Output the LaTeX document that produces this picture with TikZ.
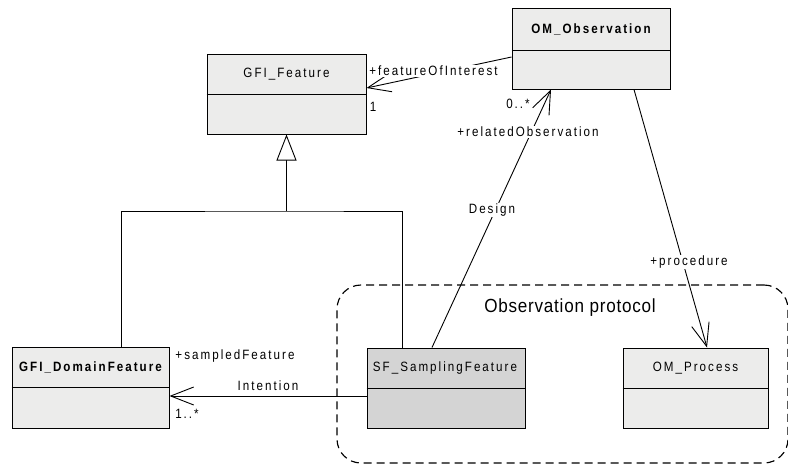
\documentclass[tikz,border=0pt]{standalone}
\usepackage{fontspec}
\setmainfont{Liberation Sans}[LetterSpace=15,FakeStretch=0.86]
\newfontfamily\protofont{Liberation Sans}[LetterSpace=4,FakeStretch=0.9]
\usetikzlibrary{arrows.meta,calc}
\definecolor{boxlight}{HTML}{ECECEB}
\definecolor{boxdark}{HTML}{D4D4D4}
\begin{document}
\begin{tikzpicture}[x=1pt,y=-1pt,
  cls/.style={draw, line width=1pt, fill=boxlight, inner sep=0pt},
  ttl/.style={font=\fontsize{13.5}{15}\selectfont, inner sep=0pt},
  lbl/.style={font=\fontsize{13.5}{15}\selectfont, inner sep=1pt},
  wlbl/.style={lbl, fill=white},
  conn/.style={line width=0.9pt},
  assoc/.style={conn, -{Straight Barb[length=23pt,width=18pt]}},
  gen/.style={conn, -{Triangle[open,length=26pt,width=20pt,fill=white]}},
  frame/.style={draw, line width=1.15pt, dash pattern=on 8pt off 5pt, rounded corners=24pt, inner sep=0pt}
]
\useasboundingbox (0,0) rectangle (788,466);

% package frame
\node[frame, minimum width=451, minimum height=178] (proto) at (562.5,374) {};
\node[font=\protofont\fontsize{19}{21}\selectfont, inner sep=0pt] (protot) at (570,308) {Observation protocol};

% classes
\node[cls, minimum width=159, minimum height=80] (gf) at (286.5,94) {};
\draw[line width=1pt] ($(gf.north west)+(0,41)$) -- ($(gf.north east)+(0,41)$);
\node[ttl] (gft) at (286.5,74.5) {GFI\_Feature};

\node[cls, minimum width=158, minimum height=81] (om) at (591,48.5) {};
\draw[line width=1pt] ($(om.north west)+(0,43)$) -- ($(om.north east)+(0,43)$);
\node[ttl, font=\bfseries\fontsize{13.5}{15}\selectfont] (omt) at (591,29.5) {OM\_Observation};

\node[cls, minimum width=157, minimum height=81] (dom) at (90.5,387.5) {};
\draw[line width=1pt] ($(dom.north west)+(0,41)$) -- ($(dom.north east)+(0,41)$);
\node[ttl, font=\bfseries\fontsize{13.5}{15}\selectfont] (domt) at (90.5,367.5) {GFI\_DomainFeature};

\node[cls, fill=boxdark, minimum width=158, minimum height=80] (sf) at (446,388) {};
\draw[line width=1pt] ($(sf.north west)+(0,41)$) -- ($(sf.north east)+(0,41)$);
\node[ttl] (sft) at (445,368.5) {SF\_SamplingFeature};

\node[cls, minimum width=145, minimum height=80] (pr) at (695.5,388) {};
\draw[line width=1pt] ($(pr.north west)+(0,41)$) -- ($(pr.north east)+(0,41)$);
\node[ttl] (prt) at (695.5,368.5) {OM\_Process};

% generalization
\coordinate (jn) at (286.5,211);
\draw[conn] ([xshift=30.5pt]dom.north) |- (jn) -| ([xshift=-44pt]sf.north);
\draw[gen] (jn) -- (gf.south);

% associations
\draw[assoc] ([yshift=-8.5pt]om.west) -- ([yshift=6pt]gf.east);
\draw[assoc] ([xshift=-14pt]sf.north) -- ([xshift=-40pt]om.south);
\draw[assoc] ([xshift=43pt]om.south) -- ([xshift=11.5pt]pr.north);
\draw[assoc] ([yshift=-8pt]sf.west) -- ([yshift=-8.5pt]dom.east);

% labels
\node[wlbl] (l1) at (433.5,71) {+featureOfInterest};
\node[lbl] (l2) at (373,107) {1};
\node[lbl] (l3) at (518,104) {0..*};
\node[wlbl] (l4) at (528,132) {+relatedObservation};
\node[wlbl] (l5) at (492,210) {Design};
\node[wlbl] (l6) at (689,262) {+procedure};
\node[lbl] (l7) at (235,356) {+sampledFeature};
\node[lbl] (l8) at (268,386) {Intention};
\node[lbl] (l9) at (187,414) {1..*};
\end{tikzpicture}
\end{document}
